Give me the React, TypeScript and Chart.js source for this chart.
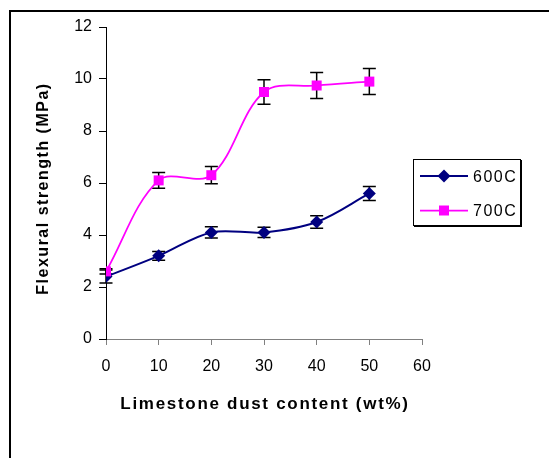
import React, { useEffect, useRef } from 'react';
import { Chart, registerables } from 'chart.js';

Chart.register(...registerables);

const contents = [0, 10, 20, 30, 40, 50];
const s600 = [2.4, 3.2, 4.1, 4.1, 4.5, 5.6];
const e600 = [0.25, 0.17, 0.22, 0.2, 0.24, 0.27];
const s700 = [2.6, 6.1, 6.3, 9.5, 9.75, 9.9];
const e700 = [0.1, 0.3, 0.33, 0.47, 0.5, 0.5];
const seriesNames = ['600C', '700C'];
const seriesColors = ['#000080', '#FF00FF'];
const xTitle = 'Limestone dust content (wt%)';
const yTitle = 'Flexural strength (MPa)';

const FONT = "'Liberation Sans', Arial, sans-serif";

export default function App() {
  const ref = useRef<HTMLCanvasElement | null>(null);

  useEffect(() => {
    document.body.style.margin = '0';
    const canvas = ref.current;
    if (!canvas) return;

    const errs = [e600, e700];

    const plugin = {
      id: 'custom',
      beforeDraw(chart: any) {
        const ctx = chart.ctx;
        ctx.save();
        ctx.fillStyle = '#fff';
        ctx.fillRect(0, 0, chart.width, chart.height);
        ctx.restore();
      },
      beforeDatasetsDraw(chart: any) {
        const ctx = chart.ctx;
        const xs = chart.scales.x;
        const ys = chart.scales.y;
        ctx.save();
        ctx.strokeStyle = '#000';
        ctx.lineWidth = 1.5;
        chart.data.datasets.forEach((ds: any) => {
          const e = errs[ds.errIndex];
          ds.data.forEach((p: any, i: number) => {
            const px = xs.getPixelForValue(p.x);
            const top = ys.getPixelForValue(p.y + e[i]);
            const bot = ys.getPixelForValue(p.y - e[i]);
            const w = 6.5;
            ctx.beginPath();
            ctx.moveTo(px, top);
            ctx.lineTo(px, bot);
            ctx.moveTo(px - w, top);
            ctx.lineTo(px + w, top);
            ctx.moveTo(px - w, bot);
            ctx.lineTo(px + w, bot);
            ctx.stroke();
          });
        });
        ctx.restore();
      },
      afterDraw(chart: any) {
        const ctx = chart.ctx;
        ctx.save();
        // outer frame
        ctx.strokeStyle = '#000';
        ctx.lineWidth = 2;
        ctx.strokeRect(10, 11, 700, 600);

        // axis titles
        ctx.fillStyle = '#000';
        ctx.font = `bold 17px ${FONT}`;
        ctx.letterSpacing = '1.7px';
        ctx.textAlign = 'left';
        ctx.textBaseline = 'alphabetic';
        const wX = ctx.measureText(xTitle).width;
        ctx.fillText(xTitle, 265 - wX / 2, 409);

        ctx.save();
        ctx.font = `bold 16px ${FONT}`;
        ctx.letterSpacing = '1.5px';
        ctx.translate(47.5, 188.5);
        ctx.rotate(-Math.PI / 2);
        const wY = ctx.measureText(yTitle).width;
        ctx.fillText(yTitle, -wY / 2, 0);
        ctx.restore();

        // legend
        ctx.lineWidth = 1;
        ctx.strokeStyle = '#000';
        ctx.strokeRect(413.5, 159.5, 107, 66);
        ctx.beginPath();
        ctx.moveTo(521.5, 160);
        ctx.lineTo(521.5, 227);
        ctx.moveTo(414, 226.5);
        ctx.lineTo(522, 226.5);
        ctx.stroke();

        const rows = [176, 210.5];
        const baselines = [182, 216];
        seriesNames.forEach((name, i) => {
          const y = rows[i];
          ctx.strokeStyle = seriesColors[i];
          ctx.lineWidth = i === 0 ? 2 : 1.75;
          ctx.beginPath();
          ctx.moveTo(420, y);
          ctx.lineTo(468, y);
          ctx.stroke();
          ctx.fillStyle = seriesColors[i];
          ctx.beginPath();
          if (i === 0) {
            const r = 6.5;
            ctx.moveTo(444, y - r);
            ctx.lineTo(444 + r, y);
            ctx.lineTo(444, y + r);
            ctx.lineTo(444 - r, y);
            ctx.closePath();
          } else {
            ctx.rect(439, y - 5, 10, 10);
          }
          ctx.fill();
          ctx.fillStyle = '#000';
          ctx.font = `16px ${FONT}`;
          ctx.letterSpacing = '1.5px';
          ctx.fillText(name, 473, baselines[i]);
        });
        ctx.restore();
      },
    };

    const tickFont = { family: FONT, size: 16 };

    const chart = new Chart(canvas, {
      type: 'line',
      data: {
        datasets: [
          {
            label: seriesNames[0],
            errIndex: 0,
            data: contents.map((x, i) => ({ x, y: s600[i] })),
            borderColor: seriesColors[0],
            backgroundColor: seriesColors[0],
            borderWidth: 2,
            pointStyle: 'rectRot',
            pointRadius: 6.5,
            pointBorderWidth: 0,
            tension: 0.35,
            order: 1,
          } as any,
          {
            label: seriesNames[1],
            errIndex: 1,
            data: contents.map((x, i) => ({ x, y: s700[i] })),
            borderColor: seriesColors[1],
            backgroundColor: seriesColors[1],
            borderWidth: 1.75,
            pointStyle: 'rect',
            pointRadius: 7.07,
            pointBorderWidth: 0,
            tension: 0.35,
            order: 0,
          } as any,
        ],
      },
      options: {
        animation: false,
        responsive: false,
        devicePixelRatio: 1,
        layout: { padding: { top: 27, right: 127, left: 0, bottom: 0 } },
        plugins: {
          legend: { display: false },
          tooltip: { enabled: false },
        },
        scales: {
          x: {
            type: 'linear',
            min: 0,
            max: 60,
            ticks: {
              stepSize: 10,
              color: '#000',
              font: tickFont,
              padding: 12,
              maxRotation: 0,
            },
            grid: {
              drawOnChartArea: false,
              drawTicks: true,
              tickLength: 6,
              color: '#808080',
              tickColor: '#808080',
            },
            border: { display: true, color: '#808080', width: 1 },
            afterFit: (s: any) => {
              s.height = 119;
            },
          },
          y: {
            type: 'linear',
            min: 0,
            max: 12,
            ticks: {
              stepSize: 2,
              color: '#000',
              font: tickFont,
              padding: 7,
            },
            grid: {
              drawOnChartArea: false,
              drawTicks: true,
              tickLength: 7,
              color: '#000',
              tickColor: '#000',
            },
            border: { display: true, color: '#000', width: 1 },
            afterFit: (s: any) => {
              s.width = 106;
            },
          },
        },
      } as any,
      plugins: [plugin],
    });

    return () => chart.destroy();
  }, []);

  return (
    <canvas
      ref={ref}
      width={549}
      height={458}
      style={{ display: 'block', width: 549, height: 458 }}
    />
  );
}
